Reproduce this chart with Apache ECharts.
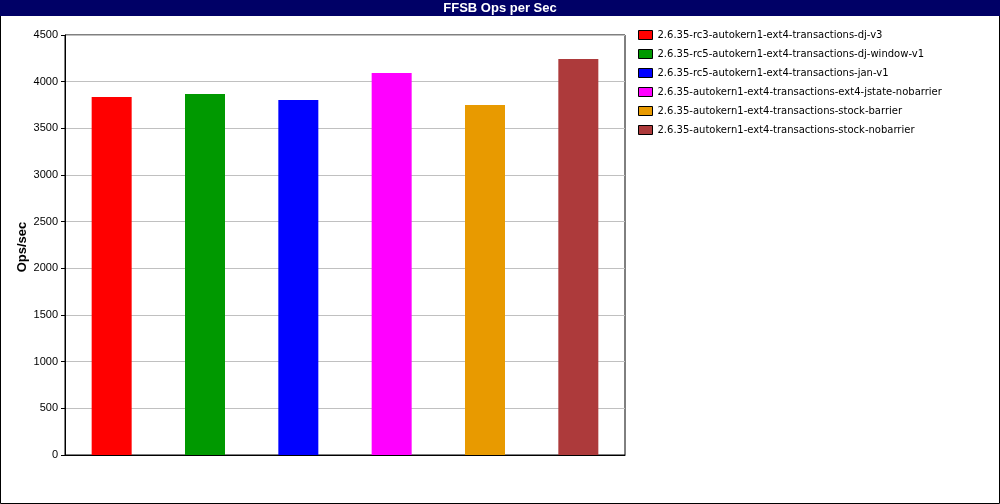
<!DOCTYPE html>
<html>
<head>
<meta charset="utf-8">
<script src="https://cdn.jsdelivr.net/npm/echarts@6/dist/echarts.min.js"></script>
<style>
  html, body { margin: 0; padding: 0; background: #fff; }
  #chart { width: 1000px; height: 504px; }
</style>
</head>
<body>
<div id="chart"></div>
<script>
// data
var seriesNames = [
    '2.6.35-rc3-autokern1-ext4-transactions-dj-v3',
    '2.6.35-rc5-autokern1-ext4-transactions-dj-window-v1',
    '2.6.35-rc5-autokern1-ext4-transactions-jan-v1',
    '2.6.35-autokern1-ext4-transactions-ext4-jstate-nobarrier',
    '2.6.35-autokern1-ext4-transactions-stock-barrier',
    '2.6.35-autokern1-ext4-transactions-stock-nobarrier'
];
var opsPerSec = [3836, 3868, 3804, 4093, 3750, 4243];
var barColors = ['#ff0000', '#009900', '#0000ff', '#ff00ff', '#e89a00', '#ad3a3b'];
var yTicks = [0, 500, 1000, 1500, 2000, 2500, 3000, 3500, 4000, 4500];

var myChart = echarts.init(document.getElementById('chart'));

// one series per run, each only filled at its own slot; stacked so bars stay centred
var series = seriesNames.map(function (name, i) {
    var data = opsPerSec.map(function (v, j) { return j === i ? v : null; });
    return {
        name: name,
        type: 'bar',
        stack: 'runs',
        barWidth: 40,
        itemStyle: { color: barColors[i] },
        data: data
    };
});

var option = {
    animation: false,
    backgroundColor: '#fff',
    title: {
        text: 'FFSB Ops per Sec',
        left: 'center',
        top: 0,
        padding: [1, 0, 0, 0],
        textStyle: { color: '#fff', fontSize: 13, lineHeight: 15, fontWeight: 'bold', fontFamily: 'Liberation Sans' }
    },
    graphic: [
        {
            type: 'rect', z: -1,
            shape: { x: 0.5, y: 0.5, width: 999, height: 503 },
            style: { fill: '#fff', stroke: '#000', lineWidth: 1 }
        },
        {
            type: 'rect', z: -1,
            shape: { x: 0, y: 0, width: 1000, height: 16 },
            style: { fill: '#000066' }
        },
        // y axis title, placed by hand
        {
            type: 'text',
            x: 22, y: 247,
            rotation: Math.PI / 2,
            style: {
                text: 'Ops/sec',
                fill: '#000',
                font: 'bold 13px "Liberation Sans"',
                align: 'center',
                verticalAlign: 'middle'
            }
        }
    ],
    legend: {
        orient: 'vertical',
        left: 633,
        top: 25,
        itemGap: 9,
        itemWidth: 14,
        itemHeight: 9,
        icon: 'rect',
        itemStyle: { borderColor: '#000', borderWidth: 1 },
        textStyle: { fontSize: 10, color: '#000', fontFamily: 'DejaVu Sans' },
        data: seriesNames
    },
    grid: {
        left: 65, top: 35, width: 560, height: 420,
        outerBoundsMode: 'none',
        containLabel: false,
        show: true, borderColor: '#000', borderWidth: 1, backgroundColor: '#fff'
    },
    xAxis: {
        type: 'category',
        data: seriesNames,
        axisLine: { lineStyle: { color: '#000' } },
        axisTick: { show: false },
        axisLabel: { show: false }
    },
    yAxis: {
        type: 'value',
        min: yTicks[0],
        max: yTicks[yTicks.length - 1],
        interval: 500,
        axisLine: { show: true, lineStyle: { color: '#000' } },
        axisTick: { show: true, length: 4, lineStyle: { color: '#000' } },
        axisLabel: {
            fontSize: 11, color: '#000', margin: 7, fontFamily: 'Liberation Sans',
            formatter: function (v) { return String(v); }
        },
        splitLine: { lineStyle: { color: '#c0c0c0' } }
    },
    series: series
};

myChart.setOption(option);
</script>
</body>
</html>
